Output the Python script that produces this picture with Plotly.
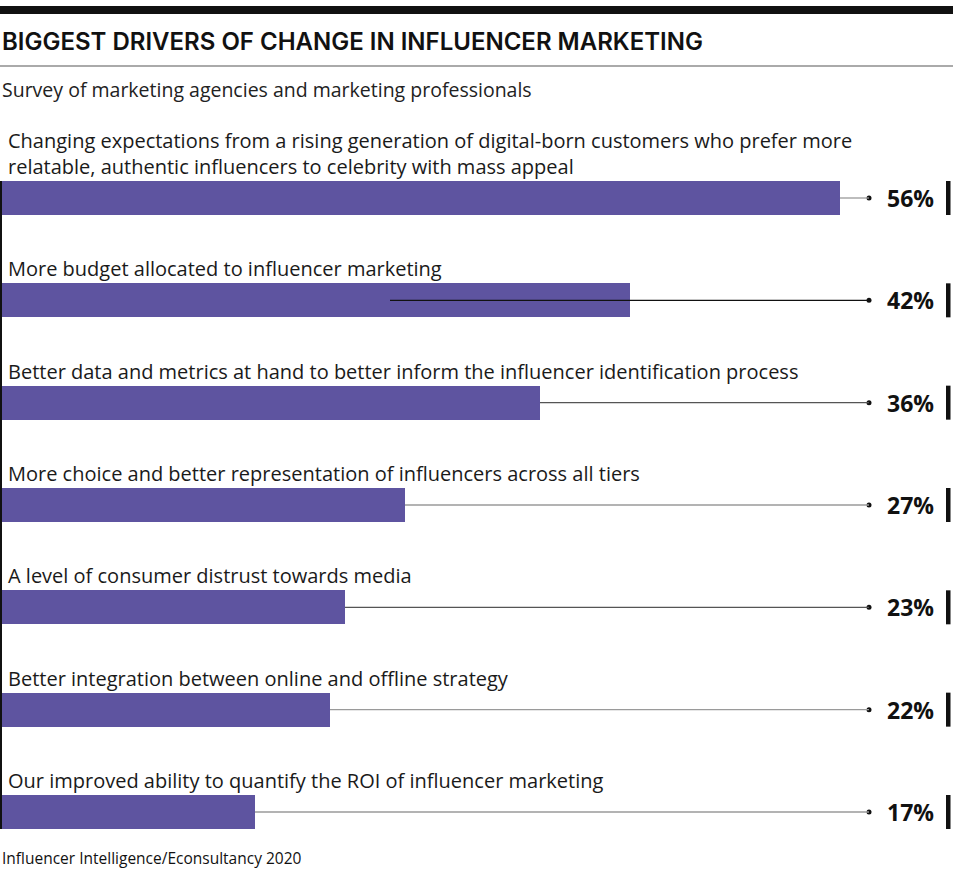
import plotly.graph_objects as go

# ---- data ----
categories = [
    "Changing expectations from a rising generation of digital-born customers who prefer more<br>relatable, authentic influencers to celebrity with mass appeal",
    "More budget allocated to influencer marketing",
    "Better data and metrics at hand to better inform the influencer identification process",
    "More choice and better representation of influencers across all tiers",
    "A level of consumer distrust towards media",
    "Better integration between online and offline strategy",
    "Our improved ability to quantify the ROI of influencer marketing",
]
values = [56, 42, 36, 27, 23, 22, 17]
value_labels = ["56%", "42%", "36%", "27%", "23%", "22%", "17%"]
line_start = [56, 26, 36, 27, 23, 22, 17]
line_colors = ["#9a9a9a", "#111111", "#555555", "#9a9a9a", "#555555", "#9a9a9a", "#9a9a9a"]

title = "BIGGEST DRIVERS OF CHANGE IN INFLUENCER MARKETING"
subtitle = "Survey of marketing agencies and marketing professionals"
source = "Influencer Intelligence/Econsultancy 2020"

W, H = 953, 870
PX_PER_UNIT_X = 15.0          # pixels per percentage point
PITCH = 102.33                # pixels per category
FIRST_CENTER = 198.0          # pixel y of first bar centre
BAR_COLOR = "#5E54A0"
FONT = "Open Sans, Arial, sans-serif"
TITLE_FONT = "Inter, Open Sans, Arial, sans-serif"

x_max = W / PX_PER_UNIT_X
y_top = -FIRST_CENTER / PITCH
y_bot = (len(values) - 1) + (H - (FIRST_CENTER + (len(values) - 1) * PITCH)) / PITCH
bar_w = 34 / PITCH
dot_x = 869 / PX_PER_UNIT_X

ypos = list(range(len(values)))

fig = go.Figure()
fig.add_trace(go.Bar(
    x=values, y=ypos, orientation="h", width=bar_w,
    marker=dict(color=BAR_COLOR, line=dict(width=0)),
    hoverinfo="skip",
))

shapes = []
annotations = []
for i, (v, s, c) in enumerate(zip(values, line_start, line_colors)):
    shapes.append(dict(type="line", xref="x", yref="y", x0=s, x1=dot_x, y0=i, y1=i,
                       line=dict(color=c, width=1.3), layer="above"))
    # right black marker bar
    shapes.append(dict(type="rect", xref="paper", yref="y",
                       x0=946 / W, x1=950.5 / W, y0=i - bar_w / 2, y1=i + bar_w / 2,
                       fillcolor="#111111", line=dict(width=0)))
    annotations.append(dict(x=936 / W, xref="paper", y=i, yref="y", text=f"<b>{value_labels[i]}</b>",
                            xanchor="right", yanchor="middle", showarrow=False,
                            font=dict(family=FONT, size=23, color="#111111")))
    annotations.append(dict(x=6 / W, xref="paper", y=i - bar_w / 2, yref="y", text=categories[i],
                            xanchor="left", yanchor="bottom", yshift=-1, showarrow=False, align="left",
                            font=dict(family=FONT, size=20, color="#1a1a1a")))

fig.add_trace(go.Scatter(
    x=[dot_x] * len(values), y=ypos, mode="markers",
    marker=dict(color="#111111", size=5), hoverinfo="skip",
))

# left axis line
shapes.append(dict(type="line", xref="paper", yref="y", x0=1 / W, x1=1 / W,
                   y0=-bar_w / 2, y1=len(values) - 1 + bar_w / 2,
                   line=dict(color="#111111", width=2)))
# top thick rule
shapes.append(dict(type="rect", xref="paper", yref="paper", x0=0, x1=1,
                   y0=1 - 14 / H, y1=1 - 6 / H, fillcolor="#111111", line=dict(width=0)))
# grey rule under title
shapes.append(dict(type="line", xref="paper", yref="paper", x0=0, x1=1,
                   y0=1 - 66 / H, y1=1 - 66 / H, line=dict(color="#aaaaaa", width=2)))

annotations.append(dict(x=0, xref="paper", y=1 - 41 / H, yref="paper", text=title,
                        xanchor="left", yanchor="middle", showarrow=False,
                        font=dict(family=TITLE_FONT, size=24, color="#111111", weight=600)))
annotations.append(dict(x=0, xref="paper", y=1 - 89 / H, yref="paper", text=subtitle,
                        xanchor="left", yanchor="middle", showarrow=False,
                        font=dict(family=FONT, size=19.5, color="#222222")))
annotations.append(dict(x=0, xref="paper", y=1 - 858 / H, yref="paper", text=source,
                        xanchor="left", yanchor="middle", showarrow=False,
                        font=dict(family=FONT, size=15.5, color="#111111")))

fig.update_layout(
    width=W, height=H,
    margin=dict(l=0, r=0, t=0, b=0),
    paper_bgcolor="white", plot_bgcolor="white",
    showlegend=False,
    xaxis=dict(range=[0, x_max], visible=False, fixedrange=True),
    yaxis=dict(range=[y_bot, y_top], visible=False, fixedrange=True),
    shapes=shapes, annotations=annotations,
    bargap=0,
)

fig.write_html("out.html", config={"displayModeBar": False},
               post_script="document.body.style.margin='0';document.body.style.overflow='hidden';")
